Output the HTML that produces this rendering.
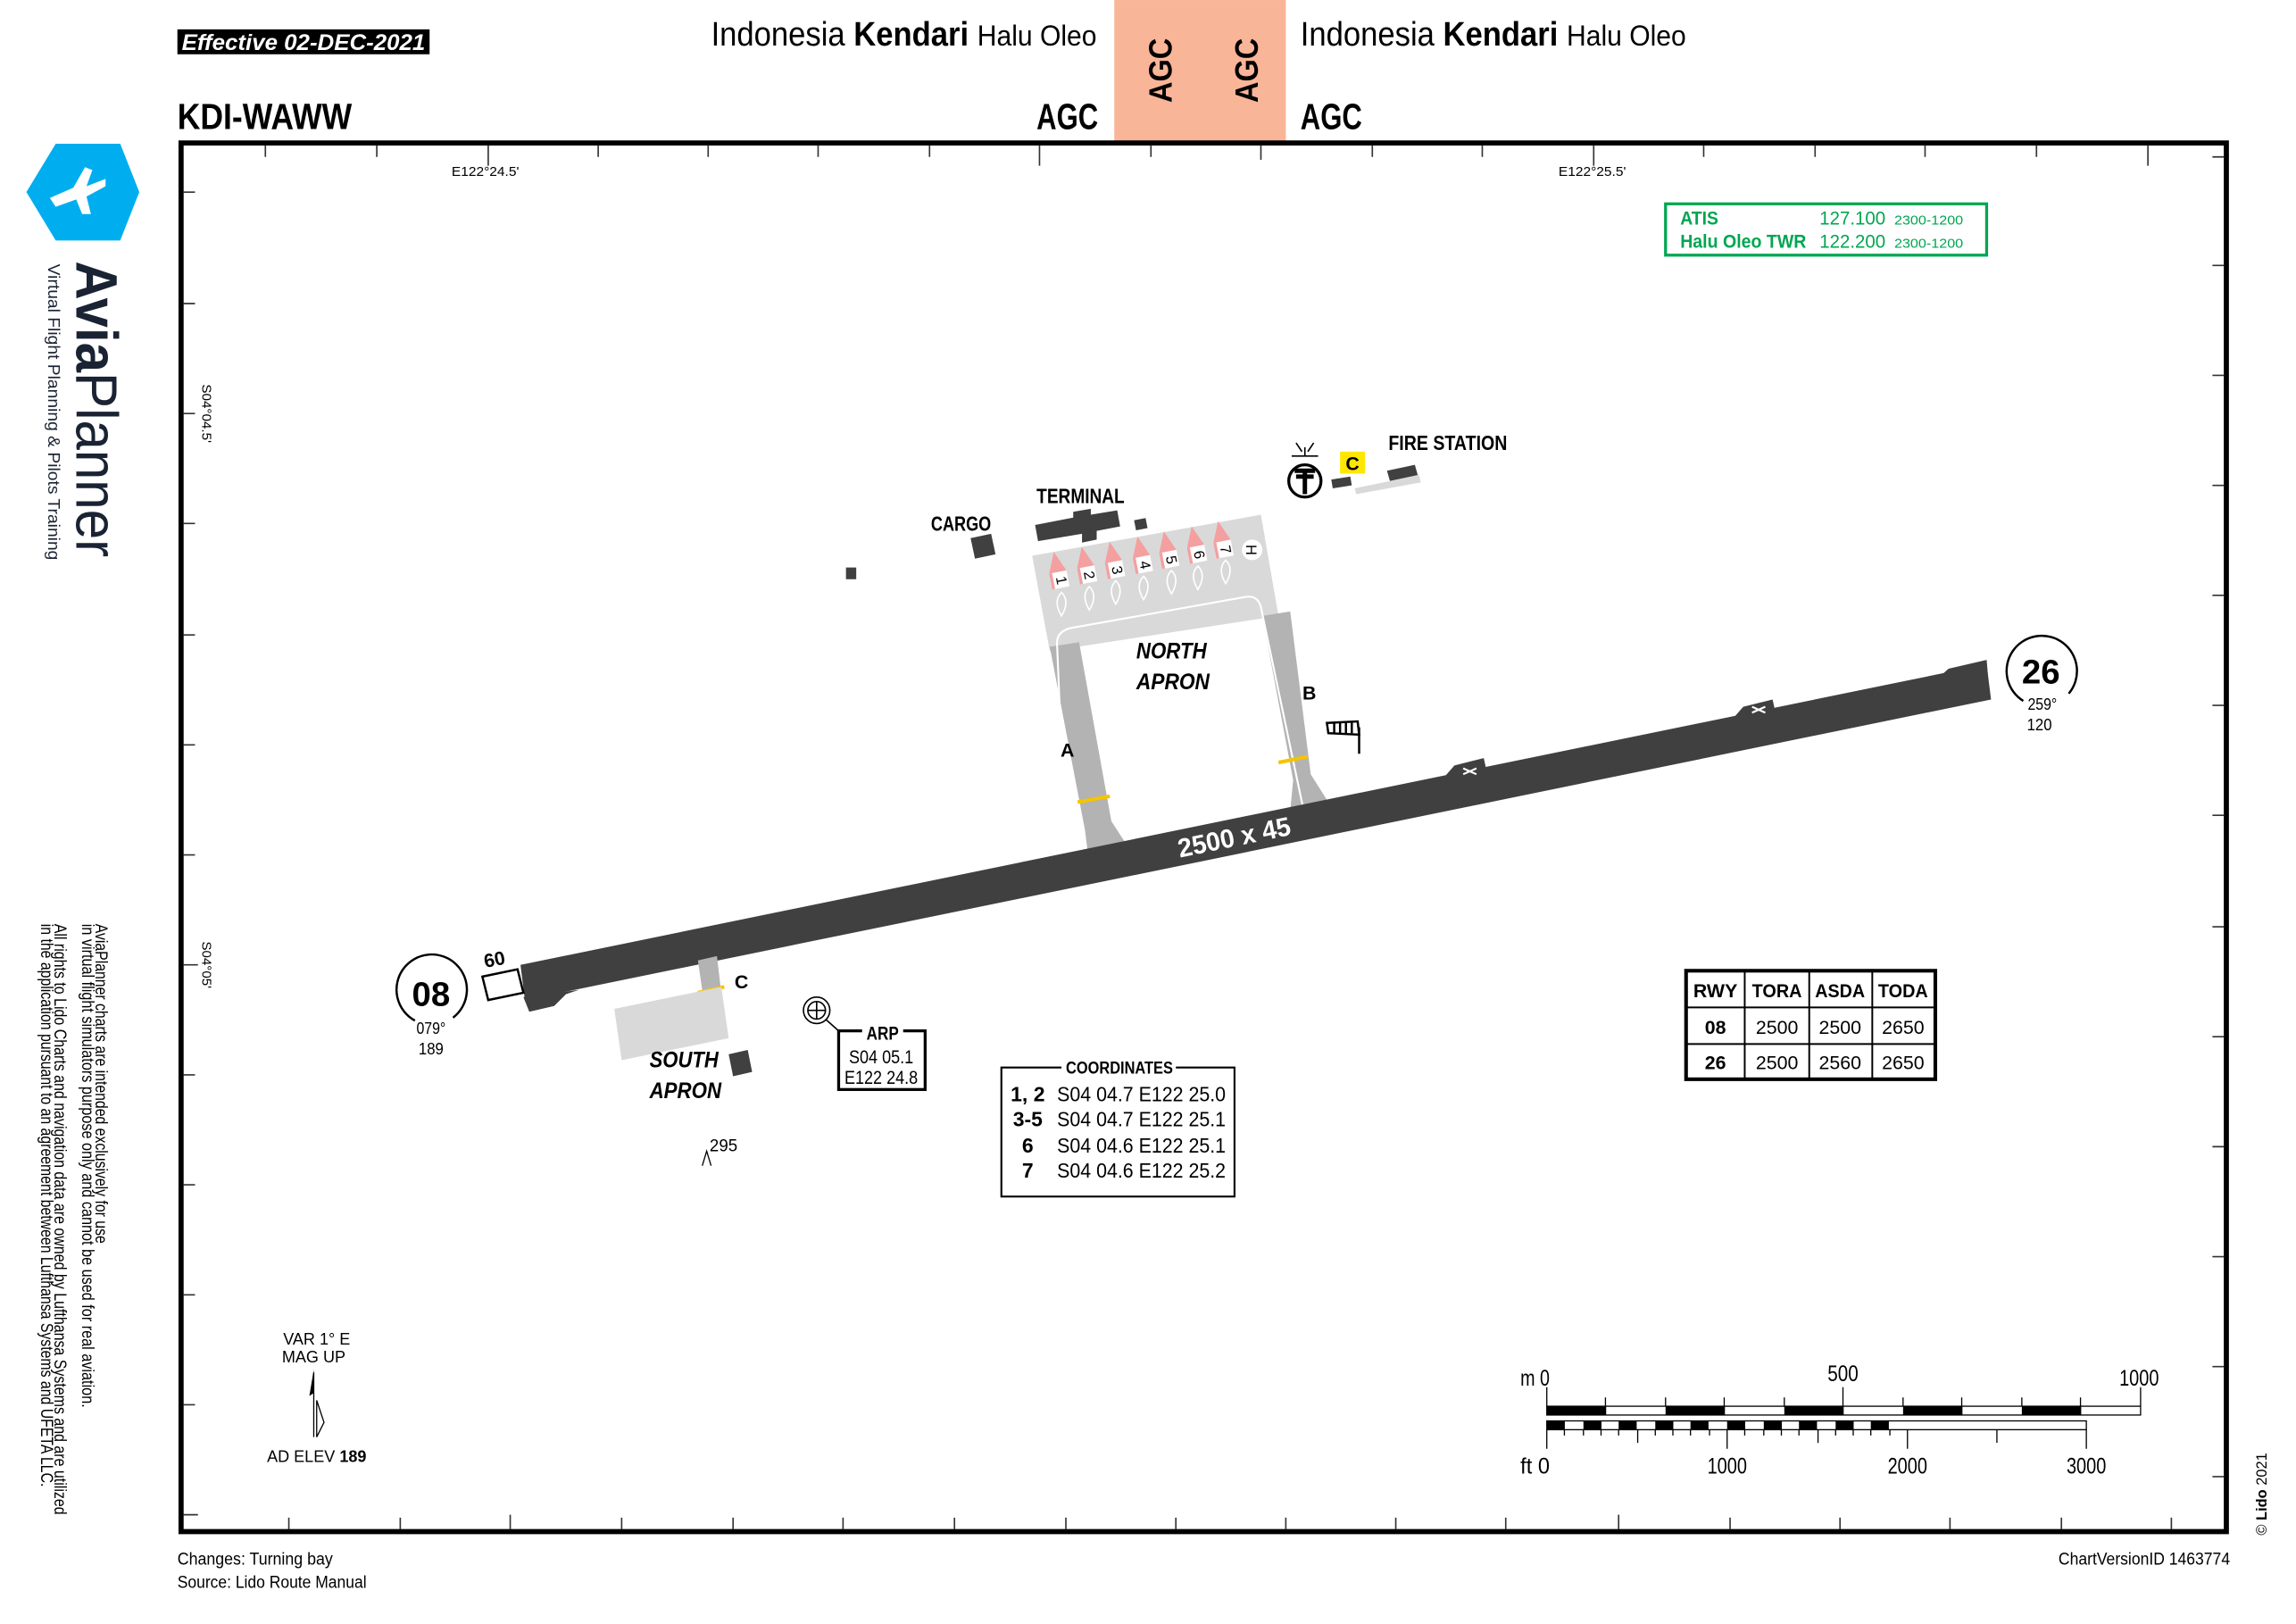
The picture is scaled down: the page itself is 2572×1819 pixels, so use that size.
<!DOCTYPE html>
<html><head><meta charset="utf-8"><style>
html,body{margin:0;padding:0;background:#fff;}
svg{display:block;}
text{font-family:"Liberation Sans",sans-serif;}
.b{font-weight:bold;}
</style></head><body>
<svg width="2572" height="1819" viewBox="0 0 1566 1107.5" xmlns="http://www.w3.org/2000/svg">
<rect width="1566" height="1108" fill="#fff"/>
<!-- header -->
<rect x="121" y="20" width="172" height="17" fill="#000"/>
<text x="124" y="34" font-size="15" fill="#fff" class="b" font-style="italic" textLength="166" lengthAdjust="spacingAndGlyphs">Effective  02-DEC-2021</text>
<text x="485" y="31" font-size="23" textLength="263" lengthAdjust="spacingAndGlyphs">Indonesia <tspan class="b">Kendari</tspan> <tspan font-size="20">Halu Oleo</tspan></text>
<text x="887" y="31" font-size="23" textLength="263" lengthAdjust="spacingAndGlyphs">Indonesia <tspan class="b">Kendari</tspan> <tspan font-size="20">Halu Oleo</tspan></text>
<rect x="760" y="0" width="117" height="96" fill="#f9b598"/>
<text transform="translate(799,48) rotate(-90)" font-size="22" class="b" text-anchor="middle" textLength="44" lengthAdjust="spacingAndGlyphs">AGC</text>
<text transform="translate(858,48) rotate(-90)" font-size="22" class="b" text-anchor="middle" textLength="44" lengthAdjust="spacingAndGlyphs">AGC</text>
<text x="121" y="88" font-size="25" class="b" textLength="119" lengthAdjust="spacingAndGlyphs">KDI-WAWW</text>
<text x="707" y="88" font-size="25" class="b" textLength="42" lengthAdjust="spacingAndGlyphs">AGC</text>
<text x="887" y="88" font-size="25" class="b" textLength="42" lengthAdjust="spacingAndGlyphs">AGC</text>

<!-- logo -->
<path d="M38,98 L82,98 L95,131 L82,164 L38,164 L18,131 Z" fill="#00aeef"/>
<path d="M34,135 L50,128 L58,114 L63,116 L59,127 L72,122 L72,127 L59,134 L62,146 L56,146 L52,136 L38,141 Z" fill="#fff"/>
<text transform="translate(52,178) rotate(90)" font-size="40" fill="#1a2333" textLength="202" lengthAdjust="spacingAndGlyphs"><tspan font-weight="bold">Avia</tspan>Planner</text>
<text transform="translate(33,180) rotate(90)" font-size="11.5" fill="#1a2333" textLength="202" lengthAdjust="spacingAndGlyphs">Virtual Flight Planning &amp; Pilots Training</text>

<!-- disclaimer -->
<g font-size="12" fill="#000">
<text transform="translate(65,630) rotate(90)" textLength="218" lengthAdjust="spacingAndGlyphs">AviaPlanner charts are intended exclusively for use</text>
<text transform="translate(56,630) rotate(90)" textLength="330" lengthAdjust="spacingAndGlyphs">in virtual flight simulators  purpose only and cannot be used for real aviation.</text>
<text transform="translate(37,630) rotate(90)" textLength="403" lengthAdjust="spacingAndGlyphs">All rights to Lido Charts and navigation data are owned by Lufthansa Systems and are utilized</text>
<text transform="translate(28,630) rotate(90)" textLength="384" lengthAdjust="spacingAndGlyphs">in the application pursuant to an agreement between Lufthansa Systems and UFETA LLC.</text>
</g>

<!-- frame -->
<rect x="123.5" y="97.5" width="1395" height="947" fill="none" stroke="#000" stroke-width="3.5"/>
<g stroke="#333" stroke-width="1">
<path d="M181,99v8M257,99v8M333,99v14M408,99v8M483,99v8M558,99v8M634,99v8M709,99v14M785,99v8M860,99v10M936,99v8M1011,99v8M1087,99v14M1162,99v8M1238,99v8M1313,99v8M1389,99v8M1465,99v14"/>
<path d="M125,131h8M125,207h8M125,282h8M125,357h8M125,433h8M125,508h8M125,583h8M125,658h10M125,733h8M125,808h8M125,883h8M125,958h8M125,1033h10"/>
<path d="M1517,107h-8M1517,181h-8M1517,256h-8M1517,331h-8M1517,406h-8M1517,481h-8M1517,556h-8M1517,632h-8M1517,707h-8M1517,782h-8M1517,857h-8M1517,932h-8M1517,1007h-8"/>
<path d="M197,1043v-8M273,1043v-8M348,1043v-10M424,1043v-8M500,1043v-8M575,1043v-8M651,1043v-8M727,1043v-8M802,1043v-8M877,1043v-8M952,1043v-8M1027,1043v-8M1104,1043v-10M1180,1043v-8M1255,1043v-8M1330,1043v-8M1406,1043v-8M1481,1043v-8"/>
</g>
<text x="331" y="120" font-size="9" text-anchor="middle" textLength="46" lengthAdjust="spacingAndGlyphs">E122°24.5'</text>
<text x="1086" y="120" font-size="9" text-anchor="middle" textLength="46" lengthAdjust="spacingAndGlyphs">E122°25.5'</text>
<text transform="translate(138,262) rotate(90)" font-size="9" textLength="40" lengthAdjust="spacingAndGlyphs">S04°04.5'</text>
<text transform="translate(138,642) rotate(90)" font-size="9" textLength="32" lengthAdjust="spacingAndGlyphs">S04°05'</text>

<!-- ATIS -->
<rect x="1136" y="139" width="219" height="35" fill="none" stroke="#00a651" stroke-width="2"/>
<g fill="#00a651" font-size="13">
<text x="1146" y="153" class="b" textLength="26" lengthAdjust="spacingAndGlyphs">ATIS</text><text x="1241" y="153" textLength="45" lengthAdjust="spacingAndGlyphs">127.100</text><text x="1292" y="153" font-size="9" textLength="47" lengthAdjust="spacingAndGlyphs">2300-1200</text>
<text x="1146" y="169" class="b" textLength="86" lengthAdjust="spacingAndGlyphs">Halu Oleo TWR</text><text x="1241" y="169" textLength="45" lengthAdjust="spacingAndGlyphs">122.200</text><text x="1292" y="169" font-size="9" textLength="47" lengthAdjust="spacingAndGlyphs">2300-1200</text>
</g>

<!-- north apron -->
<polygon points="704,379 860,351 872,420 716,444" fill="#d9d9d9"/>
<polygon points="716,441 736,438 758,560 769,577 742,582 740,566" fill="#b3b3b3"/>
<polygon points="861,420 880,417 894,528 906,547 880,553 882,532" fill="#b3b3b3"/>
<path d="M727,582 L721,440 Q720,430 732,428 L850,407 Q858,406 860,414 L889,552" fill="none" stroke="#fff" stroke-width="1.3"/>
<path d="M735,547 L757,543 M872,520 L892,516" stroke="#f5c400" stroke-width="2.5"/>
<g stroke="#fff" stroke-width="1" fill="none">
<path d="M724,420 q-6,-10 0,-16 q6,6 0,16z M743,416 q-6,-10 0,-16 q6,6 0,16z M761,412 q-6,-10 0,-16 q6,6 0,16z M780,409 q-6,-10 0,-16 q6,6 0,16z M799,405 q-6,-10 0,-16 q6,6 0,16z M817,402 q-6,-10 0,-16 q6,6 0,16z M836,398 q-6,-10 0,-16 q6,6 0,16z"/>
</g>
<g font-size="10">
<g transform="translate(723,398) rotate(-11)"><polygon points="-6,-8 0,-22 6,-8" fill="#f4a0a0"/><rect x="-6" y="-8" width="12" height="11" fill="#fff"/><rect x="-6" y="-8" width="2" height="11" fill="#f4a0a0"/><text transform="translate(1,-2) rotate(90)" text-anchor="middle" y="3">1</text></g>
<g transform="translate(742,394.5) rotate(-11)"><polygon points="-6,-8 0,-22 6,-8" fill="#f4a0a0"/><rect x="-6" y="-8" width="12" height="11" fill="#fff"/><rect x="-6" y="-8" width="2" height="11" fill="#f4a0a0"/><text transform="translate(1,-2) rotate(90)" text-anchor="middle" y="3">2</text></g>
<g transform="translate(761,391) rotate(-11)"><polygon points="-6,-8 0,-22 6,-8" fill="#f4a0a0"/><rect x="-6" y="-8" width="12" height="11" fill="#fff"/><rect x="-6" y="-8" width="2" height="11" fill="#f4a0a0"/><text transform="translate(1,-2) rotate(90)" text-anchor="middle" y="3">3</text></g>
<g transform="translate(780,387.5) rotate(-11)"><polygon points="-6,-8 0,-22 6,-8" fill="#f4a0a0"/><rect x="-6" y="-8" width="12" height="11" fill="#fff"/><rect x="-6" y="-8" width="2" height="11" fill="#f4a0a0"/><text transform="translate(1,-2) rotate(90)" text-anchor="middle" y="3">4</text></g>
<g transform="translate(798,384) rotate(-11)"><polygon points="-6,-8 0,-22 6,-8" fill="#f4a0a0"/><rect x="-6" y="-8" width="12" height="11" fill="#fff"/><rect x="-6" y="-8" width="2" height="11" fill="#f4a0a0"/><text transform="translate(1,-2) rotate(90)" text-anchor="middle" y="3">5</text></g>
<g transform="translate(817,380.5) rotate(-11)"><polygon points="-6,-8 0,-22 6,-8" fill="#f4a0a0"/><rect x="-6" y="-8" width="12" height="11" fill="#fff"/><rect x="-6" y="-8" width="2" height="11" fill="#f4a0a0"/><text transform="translate(1,-2) rotate(90)" text-anchor="middle" y="3">6</text></g>
<g transform="translate(835,377) rotate(-11)"><polygon points="-6,-8 0,-22 6,-8" fill="#f4a0a0"/><rect x="-6" y="-8" width="12" height="11" fill="#fff"/><rect x="-6" y="-8" width="2" height="11" fill="#f4a0a0"/><text transform="translate(1,-2) rotate(90)" text-anchor="middle" y="3">7</text></g>
<circle cx="854" cy="375" r="7" fill="#fff"/><text transform="translate(854,375) rotate(90)" text-anchor="middle" y="4">H</text>
</g>
<text x="775" y="449" font-size="15" class="b" font-style="italic" textLength="48" lengthAdjust="spacingAndGlyphs">NORTH</text>
<text x="775" y="470" font-size="15" class="b" font-style="italic" textLength="50" lengthAdjust="spacingAndGlyphs">APRON</text>
<text x="728" y="516" font-size="13" class="b" text-anchor="middle">A</text>
<text x="893" y="477" font-size="13" class="b" text-anchor="middle">B</text>

<!-- buildings -->
<g fill="#404040">
<polygon points="706,358 732,353 732,349 744,347 744,351 762,348 764,359 748,362 748,368 738,370 738,364 708,369"/>
<rect x="774" y="354" width="8" height="7" transform="rotate(-11 778 357)"/>
<polygon points="662,367 676,364 679,378 665,381"/>
<rect x="577" y="387" width="7" height="8"/>
<polygon points="908,327 921,325 922,331 909,333"/>
<polygon points="946,321 965,317 967,324 948,328"/>
<polygon points="497,719 510,716 513,731 500,734"/>
</g>
<polygon points="924,333 968,324 969,329 925,337" fill="#d9d9d9"/>
<text x="707" y="343" font-size="14" class="b" textLength="60" lengthAdjust="spacingAndGlyphs">TERMINAL</text>
<text x="635" y="362" font-size="14" class="b" textLength="41" lengthAdjust="spacingAndGlyphs">CARGO</text>
<text x="947" y="307" font-size="14" class="b" textLength="81" lengthAdjust="spacingAndGlyphs">FIRE STATION</text>
<rect x="914" y="308" width="17" height="15" fill="#ffe600"/>
<text x="922.5" y="320.5" font-size="13" class="b" text-anchor="middle">C</text>
<circle cx="890" cy="328" r="11" fill="none" stroke="#000" stroke-width="2"/>
<path d="M883,321h14M884,325h12M890,320v17" stroke="#000" stroke-width="3"/>
<path d="M881,311h18M890,305v6M884,302l4,6M896,302l-4,6" stroke="#000" stroke-width="1"/>
<path d="M905,493 L926,492 L927,501 L906,500 Z" fill="#fff" stroke="#000" stroke-width="1.5"/>
<path d="M910,493v7M914,493v7M918,493v7M922,492v8M927,496v18" stroke="#000" stroke-width="1.5"/>

<!-- runway -->
<polygon points="355,658 1355,453 1358,477 358,682" fill="#404040"/>
<polygon points="1318,466 1329,456 1355,450 1356,462" fill="#404040"/>
<polygon points="357,680 361,690 378,686 386,678 395,675" fill="#404040"/>
<polygon points="985,530 992,522 1012,517 1014,526" fill="#404040"/>
<polygon points="1182,490 1189,482 1209,477 1211,486" fill="#404040"/>
<path d="M998,524l9,4M998,528l9,-4M1195,482l9,4M1195,486l9,-4" stroke="#fff" stroke-width="1.3"/>
<text transform="translate(843,577) rotate(-11.6)" font-size="18" class="b" fill="#fff" text-anchor="middle" textLength="78" lengthAdjust="spacingAndGlyphs">2500 x 45</text>
<polygon points="329,666 353,661 357,677 333,682" fill="#fff" stroke="#000" stroke-width="1.5"/>
<text x="331" y="660" font-size="13" class="b" transform="rotate(-11 331 660)">60</text>
<path d="M283,696 A24,24 0 1 1 309,694" fill="none" stroke="#000" stroke-width="1.5"/>
<text x="294" y="686" font-size="23" class="b" text-anchor="middle" textLength="26" lengthAdjust="spacingAndGlyphs">08</text>
<text x="294" y="705" font-size="11" text-anchor="middle" textLength="20" lengthAdjust="spacingAndGlyphs">079°</text>
<text x="294" y="719" font-size="11" text-anchor="middle" textLength="17" lengthAdjust="spacingAndGlyphs">189</text>
<path d="M1380,478 A24,24 0 1 1 1411,473" fill="none" stroke="#000" stroke-width="1.5"/>
<text x="1392" y="466" font-size="23" class="b" text-anchor="middle" textLength="26" lengthAdjust="spacingAndGlyphs">26</text>
<text x="1393" y="484" font-size="11" text-anchor="middle" textLength="20" lengthAdjust="spacingAndGlyphs">259°</text>
<text x="1391" y="498" font-size="11" text-anchor="middle" textLength="17" lengthAdjust="spacingAndGlyphs">120</text>

<!-- south apron -->
<polygon points="476,655 489,652 493,686 481,689" fill="#b3b3b3"/>
<path d="M476,677 L494,673" stroke="#f5c400" stroke-width="2.5"/>
<polygon points="419,688 492,673 497,708 424,723" fill="#d9d9d9"/>
<text x="501" y="674" font-size="13" class="b">C</text>
<text x="443" y="728" font-size="15" class="b" font-style="italic" textLength="47" lengthAdjust="spacingAndGlyphs">SOUTH</text>
<text x="443" y="749" font-size="15" class="b" font-style="italic" textLength="49" lengthAdjust="spacingAndGlyphs">APRON</text>
<text x="484" y="785" font-size="12" textLength="19" lengthAdjust="spacingAndGlyphs">295</text>
<path d="M479,795 L482,785 L485,795" fill="none" stroke="#000" stroke-width="0.8"/>
<circle cx="557" cy="689" r="9" fill="none" stroke="#000" stroke-width="1"/>
<circle cx="557" cy="689" r="6" fill="none" stroke="#000" stroke-width="1"/>
<path d="M551,689h12M557,683v12M563,695l9,8" stroke="#000" stroke-width="1"/>
<rect x="572" y="703" width="59" height="40" fill="none" stroke="#000" stroke-width="2"/>
<rect x="588" y="697" width="28" height="12" fill="#fff"/>
<text x="602" y="709" font-size="13" class="b" text-anchor="middle" textLength="22" lengthAdjust="spacingAndGlyphs">ARP</text>
<text x="601" y="725" font-size="13" text-anchor="middle" textLength="44" lengthAdjust="spacingAndGlyphs">S04 05.1</text>
<text x="601" y="739" font-size="13" text-anchor="middle" textLength="50" lengthAdjust="spacingAndGlyphs">E122 24.8</text>
<!-- coordinates -->
<rect x="683" y="728" width="159" height="88" fill="none" stroke="#000" stroke-width="1.3"/>
<rect x="724" y="720" width="78" height="14" fill="#fff"/>
<text x="727" y="732" font-size="12" class="b" textLength="73" lengthAdjust="spacingAndGlyphs">COORDINATES</text>
<g font-size="14">
<text x="701" y="751" class="b" text-anchor="middle">1, 2</text><text x="721" y="751" textLength="115" lengthAdjust="spacingAndGlyphs">S04 04.7  E122 25.0</text>
<text x="701" y="768" class="b" text-anchor="middle">3-5</text><text x="721" y="768" textLength="115" lengthAdjust="spacingAndGlyphs">S04 04.7  E122 25.1</text>
<text x="701" y="786" class="b" text-anchor="middle">6</text><text x="721" y="786" textLength="115" lengthAdjust="spacingAndGlyphs">S04 04.6  E122 25.1</text>
<text x="701" y="803" class="b" text-anchor="middle">7</text><text x="721" y="803" textLength="115" lengthAdjust="spacingAndGlyphs">S04 04.6  E122 25.2</text>
</g>
<!-- RWY table -->
<rect x="1150" y="662" width="170" height="74" fill="none" stroke="#000" stroke-width="2.5"/>
<path d="M1150,687h170M1150,712h170M1190,662v74M1234,662v74M1277,662v74" stroke="#000" stroke-width="1.2"/>
<g font-size="13" text-anchor="middle">
<text x="1170" y="680" class="b">RWY</text><text x="1212" y="680" class="b" textLength="34" lengthAdjust="spacingAndGlyphs">TORA</text><text x="1255" y="680" class="b" textLength="34" lengthAdjust="spacingAndGlyphs">ASDA</text><text x="1298" y="680" class="b" textLength="34" lengthAdjust="spacingAndGlyphs">TODA</text>
<text x="1170" y="705" class="b">08</text><text x="1212" y="705">2500</text><text x="1255" y="705">2500</text><text x="1298" y="705">2650</text>
<text x="1170" y="729" class="b">26</text><text x="1212" y="729">2500</text><text x="1255" y="729">2560</text><text x="1298" y="729">2650</text>
</g>
<!-- scale -->
<g stroke="#000" stroke-width="0.8" fill="none">
<path d="M1055,946v13M1095,953v6M1136,953v6M1176,953v6M1217,953v6M1257,946v13M1298,953v6M1338,953v6M1379,953v6M1419,953v6M1460,946v13"/>
<rect x="1055" y="959" width="405" height="6"/>
<rect x="1055" y="969" width="368" height="6"/>
<path d="M1055,975v13M1067,975v4M1080,975v4M1092,975v4M1104,975v4M1117,975v9M1129,975v4M1141,975v4M1153,975v4M1166,975v4M1178,975v13M1190,975v4M1203,975v4M1215,975v4M1227,975v4M1240,975v9M1252,975v4M1264,975v4M1276,975v4M1289,975v4M1301,975v13M1362,975v9M1423,975v13"/>
</g>
<g fill="#000">
<rect x="1055" y="959" width="40.5" height="6"/><rect x="1136" y="959" width="40.5" height="6"/><rect x="1217" y="959" width="40.5" height="6"/><rect x="1298" y="959" width="40.5" height="6"/><rect x="1379" y="959" width="40.5" height="6"/>
<rect x="1055" y="969" width="12.3" height="6"/><rect x="1080" y="969" width="12.3" height="6"/><rect x="1104" y="969" width="12.3" height="6"/><rect x="1129" y="969" width="12.3" height="6"/><rect x="1153" y="969" width="12.3" height="6"/><rect x="1178" y="969" width="12.3" height="6"/><rect x="1203" y="969" width="12.3" height="6"/><rect x="1227" y="969" width="12.3" height="6"/><rect x="1252" y="969" width="12.3" height="6"/><rect x="1276" y="969" width="12.3" height="6"/>
</g>
<g font-size="15">
<text x="1037" y="945" textLength="20" lengthAdjust="spacingAndGlyphs">m 0</text><text x="1257" y="942" text-anchor="middle" textLength="21" lengthAdjust="spacingAndGlyphs">500</text><text x="1459" y="945" text-anchor="middle" textLength="27" lengthAdjust="spacingAndGlyphs">1000</text>
<text x="1037" y="1005" textLength="20" lengthAdjust="spacingAndGlyphs">ft 0</text><text x="1178" y="1005" text-anchor="middle" textLength="27" lengthAdjust="spacingAndGlyphs">1000</text><text x="1301" y="1005" text-anchor="middle" textLength="27" lengthAdjust="spacingAndGlyphs">2000</text><text x="1423" y="1005" text-anchor="middle" textLength="27" lengthAdjust="spacingAndGlyphs">3000</text>
</g>
<!-- var -->
<text x="216" y="917" font-size="11" text-anchor="middle">VAR 1° E</text>
<text x="214" y="929" font-size="11" text-anchor="middle">MAG UP</text>
<path d="M214,934 L211,952 L214,950 Z" fill="#000"/>
<path d="M214,936 V980 M216,955 V980 L221,970 Z" stroke="#000" stroke-width="0.8" fill="none"/>
<text x="216" y="997" font-size="11" text-anchor="middle">AD ELEV <tspan font-weight="bold">189</tspan></text>
<!-- footer -->
<text x="121" y="1067" font-size="12" textLength="106" lengthAdjust="spacingAndGlyphs">Changes: Turning bay</text>
<text x="121" y="1083" font-size="12" textLength="129" lengthAdjust="spacingAndGlyphs">Source: Lido Route Manual</text>
<text x="1404" y="1067" font-size="12" textLength="117" lengthAdjust="spacingAndGlyphs">ChartVersionID  1463774</text>
<text transform="translate(1546,1047) rotate(-90)" font-size="10">© <tspan font-weight="bold">Lido</tspan> 2021</text>
</svg>
</body></html>
